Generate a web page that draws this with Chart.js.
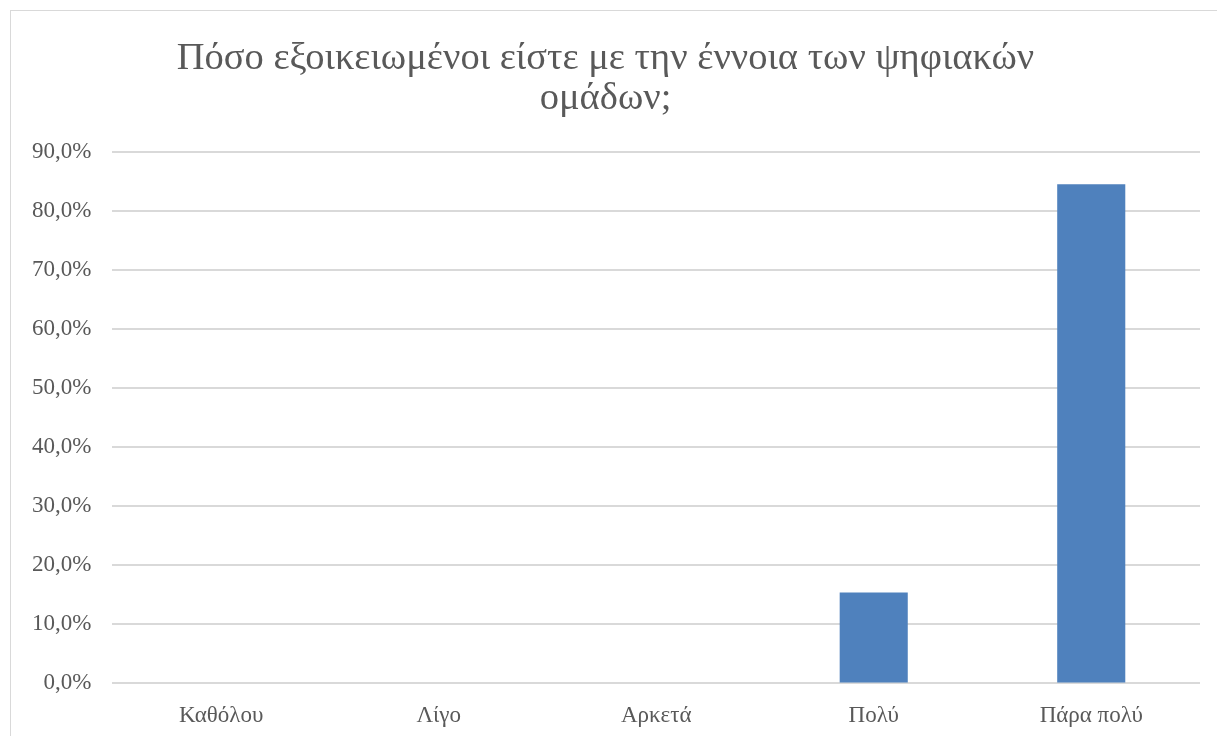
<!DOCTYPE html>
<html>
<head>
<meta charset="utf-8">
<script src="https://cdn.jsdelivr.net/npm/chart.js@4/dist/chart.umd.min.js"></script>
<style>
  body { margin: 0; background: #fff; }
  .box {
    position: absolute;
    left: 10px;
    top: 10px;
    width: 1220px;
    height: 740px;
    border: 1px solid #d9d9d9;
  }
</style>
</head>
<body>
<div class="box">
  <canvas id="myChart"></canvas>
</div>
<script>
// data
const categories = ["Καθόλου", "Λίγο", "Αρκετά", "Πολύ", "Πάρα πολύ"];
const values = [0, 0, 0, 15.4, 84.6];
const titleLines = ["Πόσο εξοικειωμένοι είστε με την έννοια των ψηφιακών", "ομάδων;"];

const ctx = document.getElementById('myChart');

new Chart(ctx, {
  type: 'bar',
  data: {
    labels: categories,
    datasets: [{
      label: 'Σειρά 1',
      data: values,
      backgroundColor: '#4f81bd',
      barPercentage: 0.313,
      categoryPercentage: 1.0
    }]
  },
  options: {
    responsive: true,
    maintainAspectRatio: false,
    animation: false,
    layout: {
      padding: { left: 0, right: 31, top: 28, bottom: 10 }
    },
    plugins: {
      legend: { display: false },
      tooltip: { enabled: false },
      title: {
        display: true,
        text: titleLines,
        color: '#595959',
        font: { family: 'Liberation Serif', size: 38.5, weight: 'normal', lineHeight: 1.03 },
        padding: { top: 0, bottom: 34 }
      }
    },
    scales: {
      x: {
        grid: { display: false },
        border: { display: false },
        ticks: {
          color: '#595959',
          font: { family: 'Liberation Serif', size: 23 },
          padding: 11
        }
      },
      y: {
        min: 0,
        max: 90,
        border: { display: false },
        grid: { color: '#d9d9d9', lineWidth: 2, drawTicks: false },
        ticks: {
          stepSize: 10,
          color: '#595959',
          font: { family: 'Liberation Serif', size: 23 },
          padding: 21,
          callback: function (v) {
            return v.toFixed(1).replace('.', ',') + '%';
          }
        }
      }
    }
  }
});
</script>
</body>
</html>
